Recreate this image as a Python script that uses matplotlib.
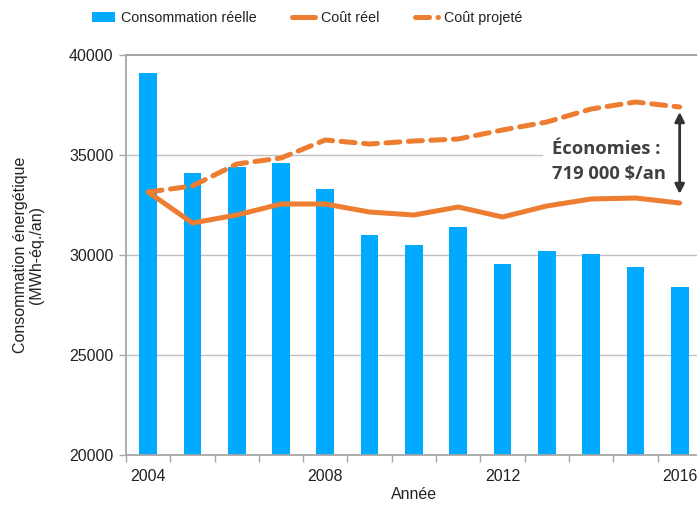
import numpy as np
import matplotlib
matplotlib.use("Agg")
import matplotlib.pyplot as plt

plt.rcParams['font.family'] = ['Liberation Sans', 'DejaVu Sans']

# data
years = list(range(2004, 2017))
consommation = [39100, 34100, 34400, 34600, 33300, 31000, 30500, 31400, 29550, 30200, 30050, 29400, 28400]
cout_reel = [33150, 31600, 32000, 32550, 32550, 32150, 32000, 32400, 31900, 32450, 32800, 32850, 32600]
cout_projete = [33150, 33450, 34550, 34850, 35750, 35550, 35700, 35800, 36250, 36650, 37300, 37650, 37400]
year_labels = ['2004', '2008', '2012', '2016']

BLUE = '#00AAFF'
ORANGE = '#ED7D31'
GRID = '#BFBFBF'
TXT = '#222222'

fig = plt.figure(figsize=(6.97, 5.07), dpi=100)
ax = fig.add_axes([126/697, 52/507, 575.8/697, 400/507])

x = np.arange(len(years))
bars = ax.bar(x, consommation, width=0.4, color=BLUE, zorder=2, label='Consommation réelle')
l1, = ax.plot(x, cout_reel, color=ORANGE, lw=3.6, solid_capstyle='round', solid_joinstyle='round',
              zorder=3, label='Coût réel')
l2, = ax.plot(x, cout_projete, color=ORANGE, lw=3.6, dashes=(2.8, 1.7), dash_capstyle='round',
              zorder=3, label='Coût projeté')

ax.set_xlim(-0.5, len(years) - 0.5)
ax.set_ylim(20000, 40000)
ax.set_yticks([20000, 25000, 30000, 35000, 40000])
ax.set_yticklabels(['20000', '25000', '30000', '35000', '40000'])
ax.set_xticks(np.arange(-0.5, len(years)), minor=False)
ax.set_xticklabels([])
ax.set_xticks([0, 4, 8, 12], minor=True)
ax.set_xticklabels(year_labels, minor=True)
ax.tick_params(axis='x', which='minor', length=0, pad=10, labelsize=11.5, labelcolor=TXT)
ax.tick_params(axis='x', which='major', length=5, color='#A6A6A6', width=1)
ax.tick_params(axis='y', length=5, color='#A6A6A6', width=1, labelsize=11.5, labelcolor=TXT, pad=4)

for v in [25000, 30000]:
    ax.axhline(v, color=GRID, lw=1, zorder=1)
ax.plot([-0.5, 8.9], [35000, 35000], color=GRID, lw=1, zorder=1)
ax.plot([-0.5, 12.5], [40000, 40000], color='#A6A6A6', lw=1.5, zorder=1, clip_on=False)

for s in ['top', 'right']:
    ax.spines[s].set_visible(False)
for s in ['left', 'bottom']:
    ax.spines[s].set_color('#A6A6A6')
    ax.spines[s].set_linewidth(1.3)

ax.set_xlabel('Année', fontsize=11.5, color=TXT, labelpad=2)
ax.set_ylabel('Consommation énergétique\n(MWh-éq./an)', fontsize=11.5, color=TXT,
              labelpad=18, linespacing=1.1)

ax.text(9.12, 34650, 'Économies :\n719 000 $/an', fontsize=13.2, fontweight='bold',
        color='#404040', ha='left', va='center', linespacing=1.5,
        family=['Open Sans', 'DejaVu Sans'], zorder=4)
ax.annotate('', xy=(12, 37150), xytext=(12, 33050),
            arrowprops=dict(arrowstyle='<|-|>', color='#333333', lw=2,
                            mutation_scale=14, shrinkA=0, shrinkB=0), zorder=4)

fig.legend([bars, l1, l2], ['Consommation réelle', 'Coût réel', 'Coût projeté'],
           loc='upper left', bbox_to_anchor=(79/697, 1.004), ncol=3, frameon=False,
           fontsize=10.3, handlelength=1.6, handletextpad=0.42, columnspacing=2.5,
           labelcolor=TXT)

fig.savefig('out.png', dpi=100)
